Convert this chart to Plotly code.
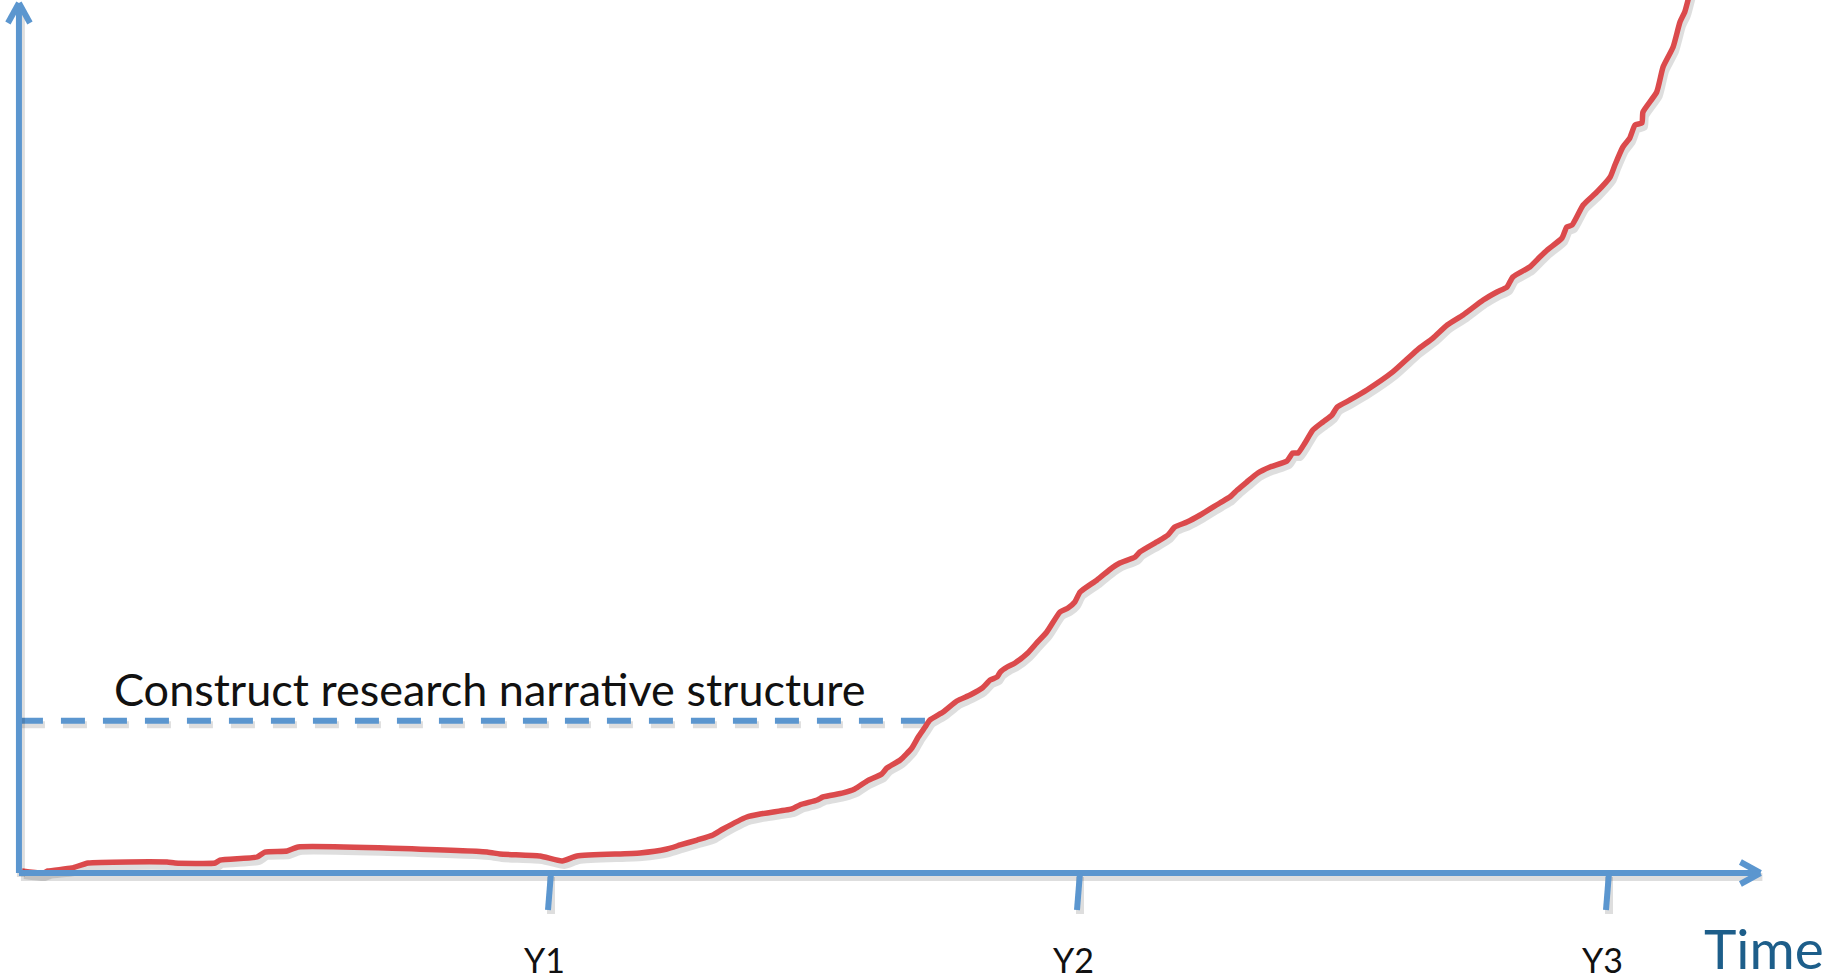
import plotly.graph_objects as go

# ---- data (x in years, y in progress index 0..100) ----
time_years = [0.004, 0.043, 0.053, 0.098, 0.129, 0.278, 0.293, 0.369, 0.378, 0.448,
              0.463, 0.505, 0.526, 0.883, 0.907, 0.983, 1.025, 1.053, 1.172, 1.223,
              1.248, 1.280, 1.310, 1.329, 1.374, 1.399, 1.459, 1.474, 1.507, 1.518,
              1.556, 1.578, 1.601, 1.629, 1.639, 1.664, 1.686, 1.698, 1.711, 1.720,
              1.745, 1.771, 1.796, 1.819, 1.834, 1.847, 1.853, 1.866, 1.881, 1.905,
              1.922, 1.941, 1.966, 1.981, 1.994, 2.004, 2.036, 2.064, 2.079, 2.108,
              2.117, 2.149, 2.170, 2.183, 2.206, 2.231, 2.268, 2.287, 2.301, 2.319,
              2.340, 2.363, 2.395, 2.406, 2.416, 2.429, 2.444, 2.463, 2.480, 2.490,
              2.514, 2.546, 2.595, 2.641, 2.671, 2.698, 2.728, 2.766, 2.792, 2.811,
              2.822, 2.854, 2.873, 2.887, 2.915, 2.924, 2.934, 2.955, 2.981, 3.006,
              3.015, 3.030, 3.043, 3.053, 3.066, 3.068, 3.094, 3.106, 3.125, 3.138,
              3.147, 3.156]
progress = [0.23, 0.00, 0.23, 0.57, 1.15, 1.26, 1.15, 1.15, 1.49, 1.84,
            2.41, 2.53, 2.99, 2.41, 2.18, 1.95, 1.38, 1.95, 2.30, 2.76,
            3.22, 3.79, 4.37, 5.06, 6.44, 6.78, 7.36, 7.82, 8.39, 8.74,
            9.20, 9.66, 10.57, 11.38, 12.07, 12.99, 14.37, 15.63, 16.78, 17.59,
            18.51, 19.77, 20.46, 21.26, 22.18, 22.53, 23.10, 23.68, 24.14, 25.29,
            26.44, 27.70, 30.00, 30.46, 31.15, 32.30, 33.68, 35.06, 35.63, 36.32,
            36.90, 38.05, 38.85, 39.77, 40.34, 41.15, 42.53, 43.22, 44.02, 44.94,
            45.98, 46.67, 47.36, 48.28, 48.28, 49.43, 50.92, 51.84, 52.64, 53.56,
            54.37, 55.52, 57.59, 60.11, 61.49, 62.99, 64.14, 65.86, 66.78, 67.36,
            68.51, 69.66, 70.80, 71.61, 72.99, 74.25, 74.48, 76.78, 78.28, 80.00,
            81.38, 83.45, 84.48, 85.98, 86.21, 87.47, 89.77, 92.64, 94.94, 97.82,
            98.97, 101.0]

tick_years = [1, 2, 3]
tick_labels = ["Y1", "Y2", "Y3"]
axis_title = "Time"
milestone_text = "Construct research narrative structure"
milestone_level = 17.5
milestone_time = 1.72

# ---- geometry helpers (pixel -> data) ----
W, H = 1848, 980
X_RANGE = [-0.0378, 3.4556]
Y_RANGE = [-12.299, 100.345]
PX_X = (X_RANGE[1] - X_RANGE[0]) / W
PX_Y = (Y_RANGE[1] - Y_RANGE[0]) / H

AX_BLUE = "#5B96CF"
RED = "#DB4A4C"
SHADOW = "rgba(0,0,0,0.13)"
SH_DX, SH_DY = 2 * PX_X, -4 * PX_Y

x0 = -0.002
x_end = 3.290
y_top = 100.0
AXW = 6

fig = go.Figure()

# shadows
fig.add_trace(go.Scatter(x=[t + SH_DX for t in time_years], y=[p + SH_DY for p in progress],
                         mode="lines", line=dict(color=SHADOW, width=8, shape="spline", smoothing=0.5),
                         hoverinfo="skip", showlegend=False))
fig.add_trace(go.Scatter(x=[x0 + SH_DX, milestone_time + SH_DX],
                         y=[milestone_level + SH_DY] * 2, mode="lines",
                         line=dict(color=SHADOW, width=7, dash="24px,18px"),
                         hoverinfo="skip", showlegend=False))

# milestone dashed line
fig.add_trace(go.Scatter(x=[x0, milestone_time], y=[milestone_level, milestone_level],
                         mode="lines", line=dict(color=AX_BLUE, width=6, dash="24px,18px"),
                         hoverinfo="skip", showlegend=False))

shapes = []
def seg(xa, ya, xb, yb, color, width):
    shapes.append(dict(type="line", xref="x", yref="y", x0=xa, y0=ya, x1=xb, y1=yb,
                       line=dict(color=color, width=width), layer="above"))

# axis shadows
ox, oy = SH_DX, SH_DY
seg(x0 + ox, 0 + oy, x_end + ox, 0 + oy, SHADOW, AXW + 2)
seg(x0 + ox, 0 + oy, x0 + ox, y_top + oy, SHADOW, AXW + 2)
for t in tick_years:
    seg(t + ox, 0 + oy, t + ox, -37 * PX_Y + oy, SHADOW, AXW + 2)

# axes
seg(x0, 0, x_end, 0, AX_BLUE, AXW)
seg(x0, 0, x0, y_top, AX_BLUE, AXW)
# arrow heads (chevrons)
seg(x_end, 0, x_end - 20 * PX_X, 11 * PX_Y, AX_BLUE, AXW)
seg(x_end, 0, x_end - 20 * PX_X, -11 * PX_Y, AX_BLUE, AXW)
seg(x0, y_top, x0 - 11 * PX_X, y_top - 20 * PX_Y, AX_BLUE, AXW)
seg(x0, y_top, x0 + 11 * PX_X, y_top - 20 * PX_Y, AX_BLUE, AXW)
# ticks
for t in tick_years:
    seg(t + 2 * PX_X, 0, t - 1 * PX_X, -37 * PX_Y, AX_BLUE, AXW)

# main curve
fig.add_trace(go.Scatter(x=time_years, y=progress, mode="lines",
                         line=dict(color=RED, width=5.5, shape="spline", smoothing=0.5),
                         hoverinfo="skip", showlegend=False))

annotations = []
for t, lab in zip(tick_years, tick_labels):
    annotations.append(dict(x=t - 4 * PX_X, y=0, xref="x", yref="paper", yshift=-2, text=lab,
                            showarrow=False, xanchor="center", yanchor="bottom",
                            font=dict(family="Lato", size=34, color="#111111")))
annotations.append(dict(x=3.297, y=0, xref="x", yref="paper", yshift=-3, text=axis_title,
                        showarrow=False, xanchor="center", yanchor="bottom",
                        font=dict(family="Lato", size=55, color="#1D5E8A")))
annotations.append(dict(x=0.888, y=21.2, xref="x", yref="y", text=milestone_text,
                        showarrow=False, xanchor="center", yanchor="middle",
                        font=dict(family="Lato", size=45, color="#111111")))

fig.update_layout(
    width=W, height=H, margin=dict(l=0, r=0, t=0, b=0),
    paper_bgcolor="white", plot_bgcolor="white",
    xaxis=dict(range=X_RANGE, visible=False, fixedrange=True),
    yaxis=dict(range=Y_RANGE, visible=False, fixedrange=True),
    shapes=shapes, annotations=annotations, showlegend=False,
)

fig.write_html("out.html", config={"displayModeBar": False},
               post_script="document.body.style.margin='0';document.body.style.overflow='hidden';")
